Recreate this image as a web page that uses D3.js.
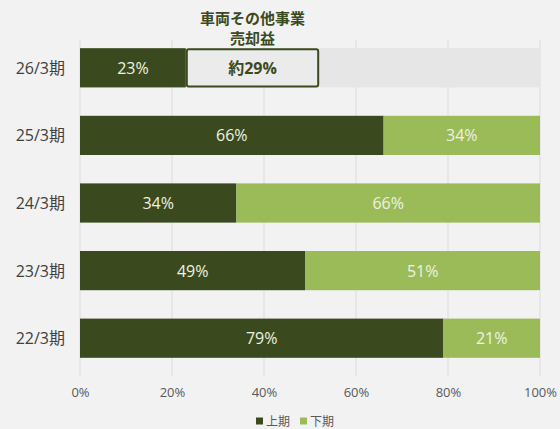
<!DOCTYPE html>
<html>
<head>
<meta charset="utf-8">
<script src="https://cdn.jsdelivr.net/npm/d3@7"></script>
<style>
  html, body { margin: 0; padding: 0; background: #f2f2f2; }
  svg { display: block; font-family: "Open Sans", "Noto Sans CJK JP", sans-serif; }
</style>
</head>
<body>
<svg id="chart" width="560" height="429"></svg>
<script>
// Fiscal periods, top to bottom
const periods = ["26/3期", "25/3期", "24/3期", "23/3期", "22/3期"];
// First-half share (%) of annual profit
const firstHalf = [23, 66, 34, 49, 79];
// Second-half share (%); 26/3 is an estimate shown separately
const secondHalf = [null, 34, 66, 51, 21];
// Estimated second-half share for the current period
const estimate = { period: "26/3期", value: 29, label: "約29%" };
const calloutTitle = ["車両その他事業", "売却益"];
const ticks = [0, 20, 40, 60, 80, 100];
const seriesNames = ["上期", "下期"];

const dark = "#3b4a1e", light = "#9bbb59";

const svg = d3.select("#chart");
const x = d3.scaleLinear().domain([0, 100]).range([80, 540]);
const y = d3.scaleBand().domain(periods).range([34, 372]).paddingInner(0.42).paddingOuter(0.21);

// vertical gridlines
svg.append("g").selectAll("line").data(ticks).join("line")
  .attr("x1", d => x(d)).attr("x2", d => x(d))
  .attr("y1", 40).attr("y2", 376)
  .attr("stroke", "#dcdcdc").attr("stroke-width", 1);

// track behind the estimated row
svg.append("rect")
  .attr("x", x(0)).attr("y", y(estimate.period))
  .attr("width", x(100) - x(0)).attr("height", y.bandwidth())
  .attr("fill", "#e6e6e6");

// axis tick labels
const axis = d3.axisBottom(x).tickValues(ticks).tickFormat(d => d + "%").tickSize(0).tickPadding(0);
const gAxis = svg.append("g").attr("transform", "translate(0,397)").call(axis);
gAxis.select(".domain").remove();
gAxis.selectAll("text").attr("font-size", 13).attr("fill", "#595959")
  .attr("font-family", "'Open Sans', 'Noto Sans CJK JP', sans-serif").attr("dy", 0);

// category labels
svg.append("g").selectAll("text").data(periods).join("text")
  .attr("x", 65).attr("y", d => y(d) + y.bandwidth() / 2)
  .attr("text-anchor", "end").attr("dominant-baseline", "central")
  .attr("font-size", 16).attr("fill", "#404040").text(d => d);

// first-half bars
svg.append("g").selectAll("rect").data(periods).join("rect")
  .attr("x", x(0)).attr("y", d => y(d))
  .attr("width", (d, i) => x(firstHalf[i]) - x(0)).attr("height", y.bandwidth())
  .attr("fill", dark);

// second-half bars
const rows2 = periods.map((p, i) => ({ p, a: firstHalf[i], b: secondHalf[i] })).filter(d => d.b != null);
svg.append("g").selectAll("rect").data(rows2).join("rect")
  .attr("x", d => x(d.a)).attr("y", d => y(d.p))
  .attr("width", d => x(d.a + d.b) - x(d.a)).attr("height", y.bandwidth())
  .attr("fill", light);

// value labels
const labelColor = "#eef2e2";
svg.append("g").selectAll("text").data(periods).join("text")
  .attr("x", (d, i) => (x(0) + x(firstHalf[i])) / 2)
  .attr("y", d => y(d) + y.bandwidth() / 2)
  .attr("text-anchor", "middle").attr("dominant-baseline", "central")
  .attr("font-size", 16).attr("fill", labelColor)
  .text((d, i) => firstHalf[i] + "%");
svg.append("g").selectAll("text").data(rows2).join("text")
  .attr("x", d => (x(d.a) + x(d.a + d.b)) / 2)
  .attr("y", d => y(d.p) + y.bandwidth() / 2)
  .attr("text-anchor", "middle").attr("dominant-baseline", "central")
  .attr("font-size", 16).attr("fill", labelColor)
  .text(d => d.b + "%");

// estimated second half: outlined box with callout title
const ia = periods.indexOf(estimate.period);
const ex0 = x(firstHalf[ia]), ex1 = x(firstHalf[ia] + estimate.value);
svg.append("rect")
  .attr("x", ex0 + 1).attr("y", y(estimate.period) + 1)
  .attr("width", ex1 - ex0 - 2).attr("height", y.bandwidth() - 2)
  .attr("rx", 2)
  .attr("fill", "#ebebeb").attr("stroke", dark).attr("stroke-width", 2);
svg.append("text")
  .attr("x", (ex0 + ex1) / 2).attr("y", y(estimate.period) + y.bandwidth() / 2)
  .attr("text-anchor", "middle").attr("dominant-baseline", "central")
  .attr("font-size", 16).attr("font-weight", "bold").attr("fill", dark)
  .text(estimate.label);
svg.append("g").selectAll("text").data(calloutTitle).join("text")
  .attr("x", (ex0 + ex1) / 2).attr("y", (d, i) => 18 + i * 20)
  .attr("text-anchor", "middle").attr("dominant-baseline", "central")
  .attr("font-size", 15).attr("font-weight", "bold").attr("fill", dark)
  .text(d => d);

// legend
const legend = svg.append("g").attr("transform", "translate(256,421)");
const lg = legend.selectAll("g").data(seriesNames).join("g")
  .attr("transform", (d, i) => `translate(${i * 44},0)`);
lg.append("rect").attr("x", 0).attr("y", -3.5).attr("width", 7).attr("height", 7)
  .attr("fill", (d, i) => i === 0 ? dark : light);
lg.append("text").attr("x", 10).attr("y", 0).attr("dominant-baseline", "central")
  .attr("font-size", 12).attr("fill", "#595959").text(d => d);
</script>
</body>
</html>
